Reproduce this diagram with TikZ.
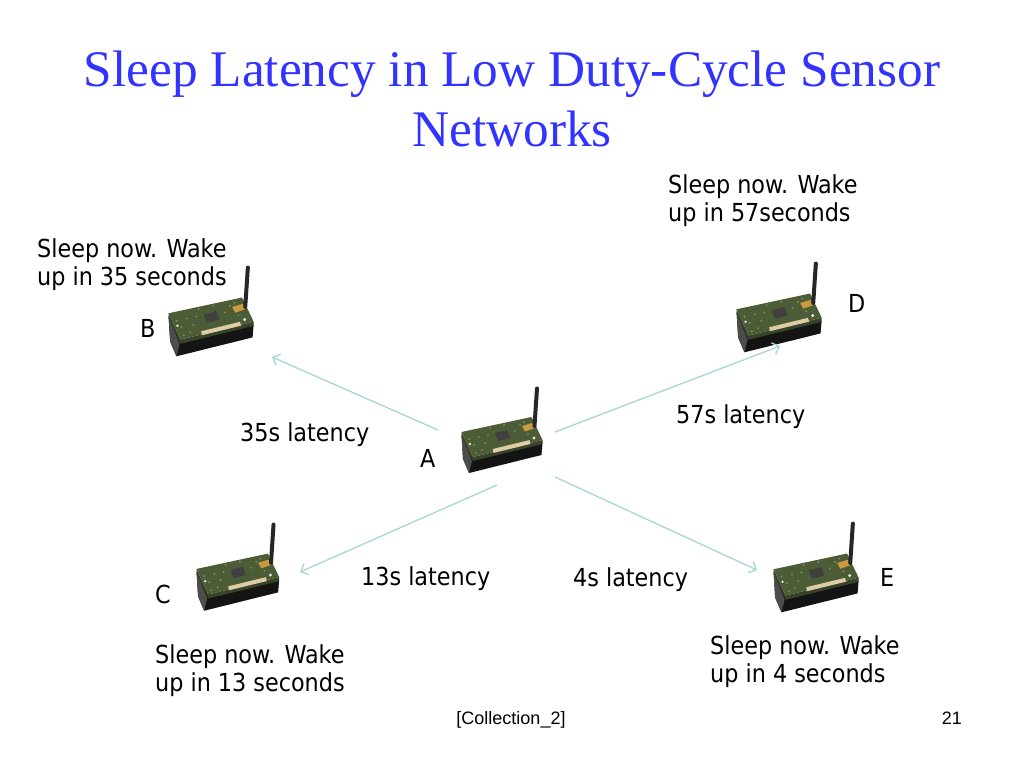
\documentclass[tikz,border=0pt]{standalone}
\usepackage{fontspec}
\setmainfont{Liberation Serif}
\newfontfamily\bodyfont{DejaVu Sans Condensed}
\newfontfamily\footfont{Liberation Sans}
\usetikzlibrary{arrows.meta}
\definecolor{titleblue}{HTML}{3333FF}
\definecolor{arrowcyan}{HTML}{A8D5D8}
\definecolor{boardgreen}{HTML}{4C5C36}
\definecolor{boarddark}{HTML}{38442A}
\definecolor{boardlight}{HTML}{8A9870}
\definecolor{basegray}{HTML}{141414}
\definecolor{connbeige}{HTML}{DCCDA6}
\definecolor{antgold}{HTML}{C89A40}
\tikzset{
  sensor/.pic={
    % black base
    \fill[basegray] (1.5,48) -- (3,72) -- (9,86) -- (81.5,68) -- (82.5,56) -- (13,73) -- cycle;
    \fill[black!70] (1.5,48) -- (12,74) -- (9,86) -- (3,72) -- cycle;
    % board edges
    \fill[boarddark] (1.5,45) -- (13,70) -- (82.5,53) -- (82.5,57) -- (13,74) -- (1.5,49) -- cycle;
    % board top face
    \fill[boardgreen] (1.5,45) -- (71.5,30) -- (82.5,53) -- (13,70) -- cycle;
    % texture
    \foreach \p in {(9,52),(14,58),(19,50),(22,63),(60,38),(64,35),(28,48),(16,66),(55,44),(68,47),(25,56),(44,38),(30,41)}
      \fill[boardlight] \p circle (0.9);
    % chip
    \fill[black!75] (35,46) -- (47,43) -- (50,51) -- (38,54) -- cycle;
    % connector strip
    \draw[connbeige, line width=4] (33,64) -- (70,55);
    % holes
    \fill[white!80!gray] (74,51) circle (1.6);
    \fill[white!80!gray] (10,57) circle (1.3);
    % antenna connector and antenna
    \fill[antgold] (62,39) -- (72,36) -- (75,41) -- (65,44.5) -- cycle;
    \draw[black!85, line width=4, line cap=round] (77,1.5) -- (74.5,39);
  },
  arrowline/.style={draw=arrowcyan, line width=1.3, -{Straight Barb[length=6,width=12]}},
  bodytext/.style={font=\bodyfont\fontsize{24.8}{28}\selectfont, inner sep=0, anchor=base west},
  titletext/.style={font=\fontsize{51.3}{60}\selectfont, text=titleblue, inner sep=0, anchor=base},
  foottext/.style={font=\footfont\fontsize{18}{21}\selectfont, inner sep=0}
}
\begin{document}
\begin{tikzpicture}[x=1pt,y=-1pt]
\useasboundingbox (0,0) rectangle (1024,768);
\fill[white] (0,0) rectangle (1024,768);

% title
\node[titletext] (title) at (512,86) {\begin{tabular}[t]{@{}c@{}}Sleep Latency in Low Duty-Cycle Sensor\\Networks\end{tabular}};

% sensors
\pic (sA) at (460,387) {sensor};
\pic[scale=1.05] (sB) at (167,266) {sensor};
\pic[scale=1.05] (sD) at (735,262) {sensor};
\pic[scale=1.02] (sC) at (195,523) {sensor};
\pic[scale=1.05] (sE) at (772,522) {sensor};

% arrow end points
\coordinate (AtoB) at (438,430);
\coordinate (BfromA) at (272,357);
\coordinate (AtoD) at (555,432);
\coordinate (DfromA) at (780,346);
\coordinate (AtoC) at (497,485);
\coordinate (CfromA) at (300,572);
\coordinate (AtoE) at (555,477);
\coordinate (EfromA) at (757,570);

\draw[arrowline] (AtoB) -- (BfromA);
\draw[arrowline] (AtoD) -- (DfromA);
\draw[arrowline] (AtoC) -- (CfromA);
\draw[arrowline] (AtoE) -- (EfromA);

% messages
\node[bodytext] (msgD) at (668,193) {\begin{tabular}[t]{@{}l@{}}Sleep now. Wake\\up in 57seconds\end{tabular}};
\node[bodytext] (msgB) at (37,257) {\begin{tabular}[t]{@{}l@{}}Sleep now. Wake\\up in 35 seconds\end{tabular}};
\node[bodytext] (msgC) at (155,663) {\begin{tabular}[t]{@{}l@{}}Sleep now. Wake\\up in 13 seconds\end{tabular}};
\node[bodytext] (msgE) at (710,654) {\begin{tabular}[t]{@{}l@{}}Sleep now. Wake\\up in 4 seconds\end{tabular}};

% latency labels
\node[bodytext] (latB) at (240,441) {35s latency};
\node[bodytext] (latD) at (676,423) {57s latency};
\node[bodytext] (latC) at (361,585) {13s latency};
\node[bodytext] (latE) at (573,586) {4s latency};

% node letters
\node[bodytext] (lB) at (140,337) {B};
\node[bodytext] (lD) at (848,312) {D};
\node[bodytext] (lA) at (420,467) {A};
\node[bodytext] (lC) at (155,603) {C};
\node[bodytext] (lE) at (880,586) {E};

% footer
\node[foottext, anchor=base] (src) at (511,724) {[Collection\_2]};
\node[foottext, anchor=base east] (page) at (962,724) {21};
\end{tikzpicture}
\end{document}
